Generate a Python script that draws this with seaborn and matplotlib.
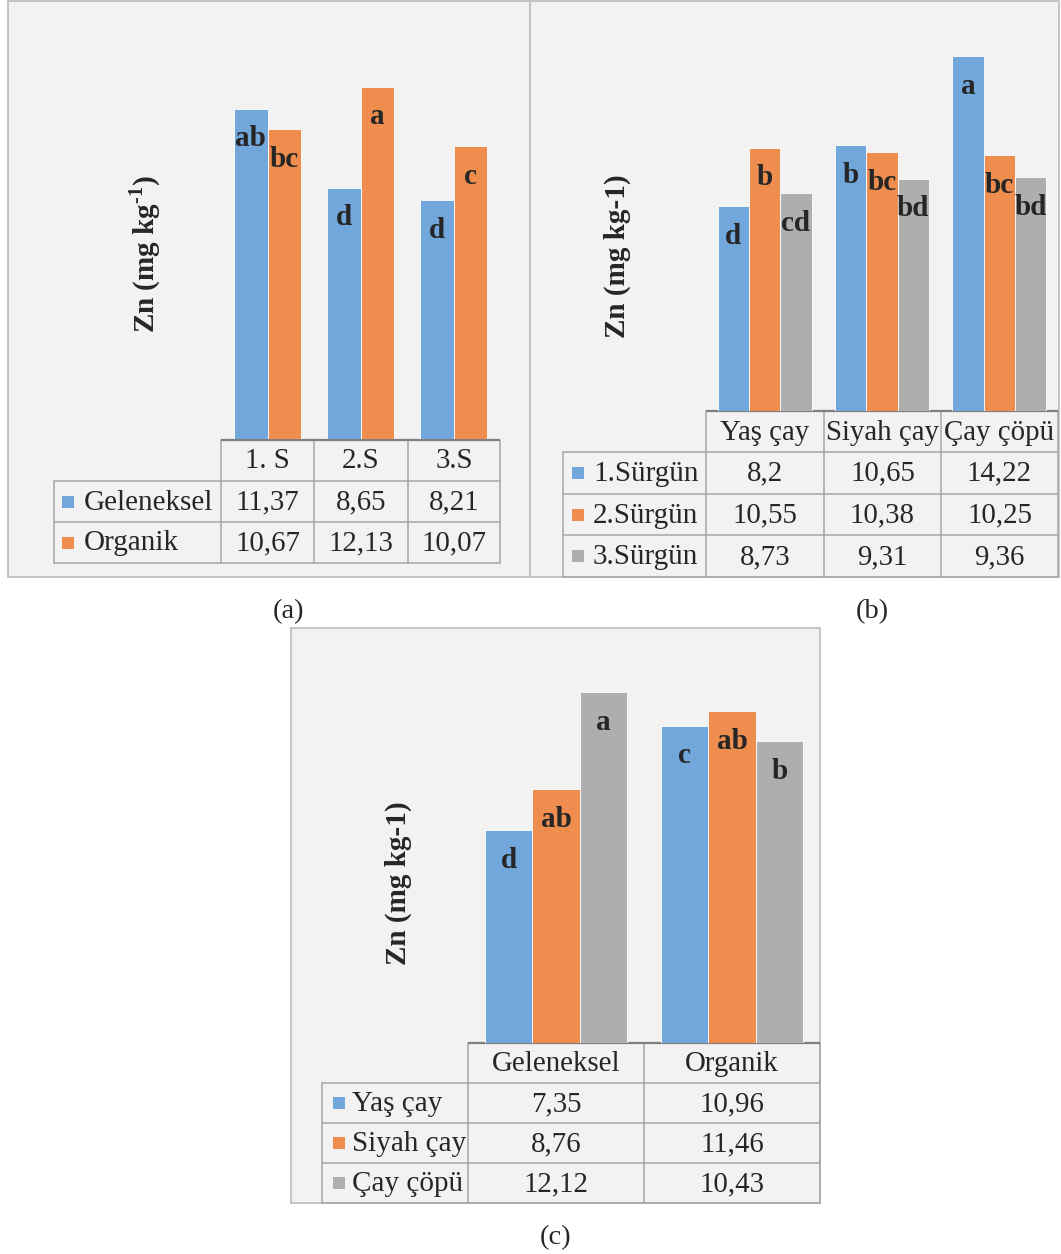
import matplotlib
matplotlib.use("Agg")
import matplotlib.pyplot as plt
from matplotlib.patches import Rectangle
import seaborn as sns
import pandas as pd

# ---------------- data ----------------
a_cats = ["1. S", "2.S", "3.S"]
a_series = ["Geleneksel", "Organik"]
a_geleneksel = [11.37, 8.65, 8.21]
a_organik = [10.67, 12.13, 10.07]
a_letters_geleneksel = ["ab", "d", "d"]
a_letters_organik = ["bc", "a", "c"]

b_cats = ["Yaş çay", "Siyah çay", "Çay çöpü"]
b_series = ["1.Sürgün", "2.Sürgün", "3.Sürgün"]
b_surgun1 = [8.2, 10.65, 14.22]
b_surgun2 = [10.55, 10.38, 10.25]
b_surgun3 = [8.73, 9.31, 9.36]
b_letters1 = ["d", "b", "a"]
b_letters2 = ["b", "bc", "bc"]
b_letters3 = ["cd", "bd", "bd"]

c_cats = ["Geleneksel", "Organik"]
c_series = ["Yaş çay", "Siyah çay", "Çay çöpü"]
c_yas = [7.35, 10.96]
c_siyah = [8.76, 11.46]
c_copu = [12.12, 10.43]
c_letters_yas = ["d", "c"]
c_letters_siyah = ["ab", "ab"]
c_letters_copu = ["a", "b"]

# ---------------- style ----------------
sns.set_style("white")
plt.rcParams["font.family"] = ["Liberation Serif", "DejaVu Serif"]
plt.rcParams["mathtext.fontset"] = "custom"
plt.rcParams["mathtext.rm"] = "Liberation Serif:bold"
plt.rcParams["mathtext.bf"] = "Liberation Serif:bold"

BLUE = "#71A7DA"
ORANGE = "#EE8D4E"
GRAY = "#AEAEAE"
BG = "#F2F2F2"
GRID = "#A6A6A6"
DARK = "#7F7F7F"
BORDER = "#C0C0C0"

W, H = 1061, 1254
fig = plt.figure(figsize=(W / 100, H / 100), dpi=100)
fig.patch.set_facecolor("white")

# background / table axes in pixel coordinates
bg = fig.add_axes([0, 0, 1, 1])
bg.set_xlim(0, W)
bg.set_ylim(H, 0)
bg.axis("off")


def frac(x0, y0, x1, y1):
    return [x0 / W, 1 - y1 / H, (x1 - x0) / W, (y1 - y0) / H]


def fmt(v):
    return f"{v:g}".replace(".", ",")


LW = 1.1
TFS = 20.8
LFS = 21
YFS = 21


def draw_panel(px0, py0, px1, py1):
    bg.add_patch(Rectangle((px0, py0), px1 - px0, py1 - py0, facecolor=BG,
                           edgecolor=BORDER, linewidth=1.3, zorder=0))


def draw_table(colx, head_top, row_h, label_x0, cats, series, values, colors,
               sq_x, txt_x, n_head_h):
    head_bot = head_top + n_head_h
    nrows = len(series)
    bottom = head_bot + nrows * row_h
    bg.plot([colx[0], colx[-1]], [head_top, head_top], color=DARK, lw=1.6,
            zorder=3, solid_capstyle="butt")
    for i in range(nrows + 1):
        y = head_bot + i * row_h
        bg.plot([label_x0, colx[-1]], [y, y], color=GRID, lw=LW, zorder=2)
    for x in colx:
        bg.plot([x, x], [head_top, bottom], color=GRID, lw=LW, zorder=2)
    bg.plot([label_x0, label_x0], [head_bot, bottom], color=GRID, lw=LW, zorder=2)
    for j, c in enumerate(cats):
        bg.text((colx[j] + colx[j + 1]) / 2, head_top + n_head_h / 2 + 1, c,
                ha="center", va="center", fontsize=TFS, zorder=4)
    for i, s in enumerate(series):
        yc = head_bot + (i + 0.5) * row_h
        bg.add_patch(Rectangle((sq_x, yc - 6), 12, 12, facecolor=colors[i],
                               edgecolor="none", zorder=4))
        bg.text(txt_x, yc + 1, s, ha="left", va="center", fontsize=LFS, zorder=4)
        for j in range(len(cats)):
            bg.text((colx[j] + colx[j + 1]) / 2, yc + 1, fmt(values[i][j]),
                    ha="center", va="center", fontsize=TFS, zorder=4)


def draw_bars(rect, cats, series, values, letters, colors, width, ymax):
    ax = fig.add_axes(frac(*rect))
    ax.patch.set_alpha(0)
    rows = []
    for s, vals in zip(series, values):
        for c, v in zip(cats, vals):
            rows.append({"cat": c, "series": s, "val": v})
    df = pd.DataFrame(rows)
    sns.barplot(data=df, x="cat", y="val", hue="series", order=cats,
                hue_order=series, palette=colors, width=width, saturation=1,
                legend=False, ax=ax, edgecolor="#FFFFFF", linewidth=0.6,
                err_kws={"linewidth": 0})
    ax.set_ylim(0, ymax)
    ax.set_xlim(-0.5, len(cats) - 0.5)
    ax.axis("off")
    for cont, labs in zip(ax.containers, letters):
        for bar, lab in zip(cont, labs):
            ax.annotate(lab, xy=(bar.get_x() + bar.get_width() / 2, bar.get_height()),
                        xytext=(0, -30), textcoords="offset pixels",
                        ha="center", va="center", fontsize=21, fontweight="bold")
    return ax


# ---------------- panel (a) ----------------
draw_panel(8, 1, 530, 577)
draw_bars((221, 32.3, 500, 439), a_cats, a_series, [a_geleneksel, a_organik],
          [a_letters_geleneksel, a_letters_organik], [BLUE, ORANGE], 0.72, 14)
draw_table([221, 314, 408, 500], 440, 41, 54, a_cats, a_series,
           [a_geleneksel, a_organik], [BLUE, ORANGE], 62, 84, 41)
bg.text(145, 254, r"Zn (mg kg$^{\text{-1}}$)", rotation=90, ha="center",
        va="center", fontsize=YFS, fontweight="bold")
bg.text(289, 612, "(a)", ha="center", va="center", fontsize=20.5)

# ---------------- panel (b) ----------------
draw_panel(530, 1, 1059, 577)
draw_bars((706, 12.1, 1058, 410.5), b_cats, b_series,
          [b_surgun1, b_surgun2, b_surgun3],
          [b_letters1, b_letters2, b_letters3], [BLUE, ORANGE, GRAY], 0.80, 16)
draw_table([706, 824, 941, 1058], 411, 41.7, 563, b_cats, b_series,
           [b_surgun1, b_surgun2, b_surgun3], [BLUE, ORANGE, GRAY], 572, 593, 41)
bg.text(617, 256, "Zn (mg kg-1)", rotation=90, ha="center", va="center",
        fontsize=YFS, fontweight="bold")
bg.text(872, 612, "(b)", ha="center", va="center", fontsize=20.5)

# ---------------- panel (c) ----------------
draw_panel(291, 628, 820, 1203)
draw_bars((468, 637.9, 820, 1042.5), c_cats, c_series,
          [c_yas, c_siyah, c_copu],
          [c_letters_yas, c_letters_siyah, c_letters_copu],
          [BLUE, ORANGE, GRAY], 0.81, 14)
draw_table([468, 644, 820], 1043, 40, 322, c_cats, c_series,
           [c_yas, c_siyah, c_copu], [BLUE, ORANGE, GRAY], 333, 352, 40)
bg.text(398, 883, "Zn (mg kg-1)", rotation=90, ha="center", va="center",
        fontsize=YFS, fontweight="bold")
bg.text(556, 1238, "(c)", ha="center", va="center", fontsize=20.5)

fig.savefig("out.png", dpi=100, facecolor="white")
